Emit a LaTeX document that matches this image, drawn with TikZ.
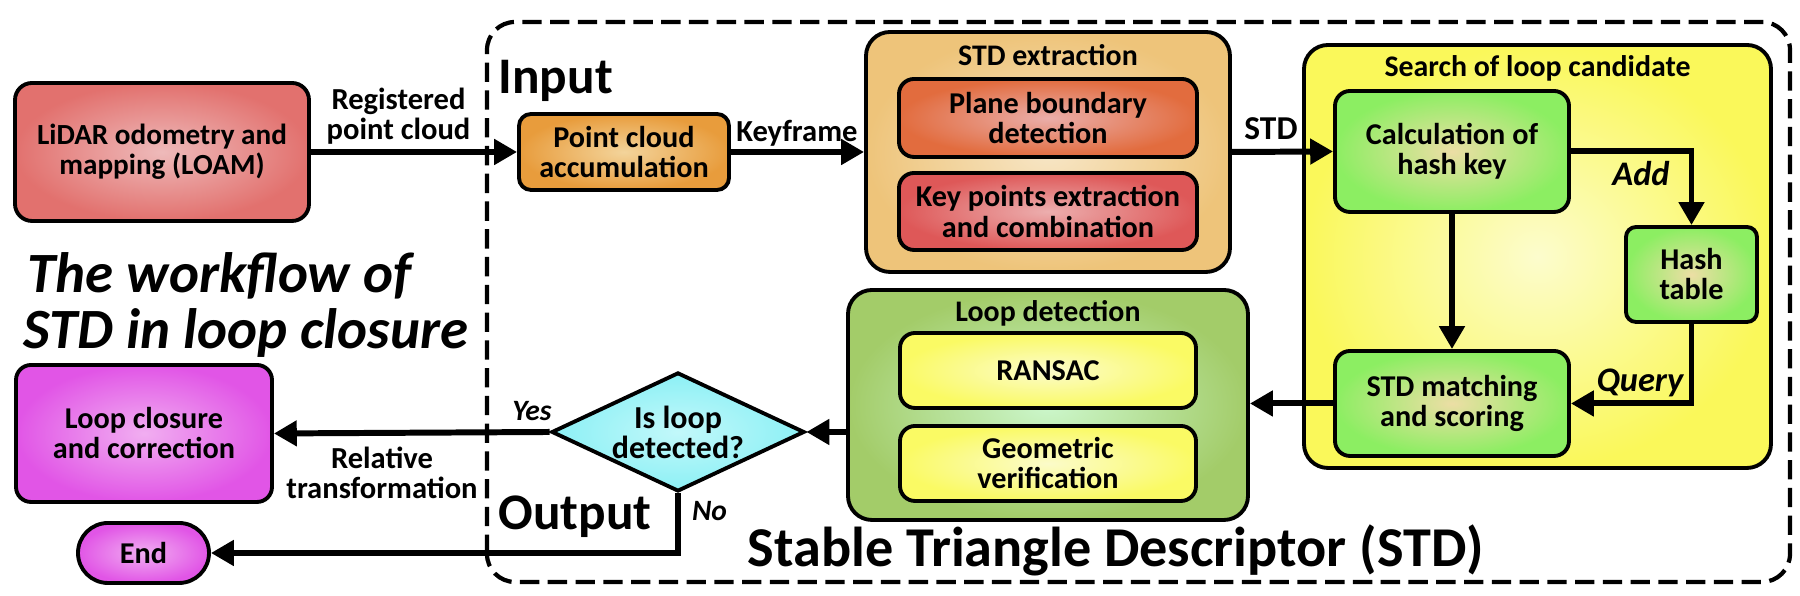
\documentclass[tikz,border=0pt]{standalone}
\usepackage{fontspec}
\setmainfont{Carlito}
\usetikzlibrary{arrows.meta,shapes.geometric}

\definecolor{lidarout}{RGB}{226,113,110}
\definecolor{lidarin}{RGB}{238,186,186}
\definecolor{accout}{RGB}{232,156,60}
\definecolor{accin}{RGB}{243,212,155}
\definecolor{extout}{RGB}{238,196,122}
\definecolor{extin}{RGB}{247,230,198}
\definecolor{planeout}{RGB}{226,108,62}
\definecolor{planein}{RGB}{234,174,170}
\definecolor{keyout}{RGB}{222,88,88}
\definecolor{keyin}{RGB}{236,174,174}
\definecolor{searchout}{RGB}{250,248,90}
\definecolor{searchin}{RGB}{252,252,205}
\definecolor{hashout}{RGB}{140,238,98}
\definecolor{hashin}{RGB}{236,222,165}
\definecolor{detout}{RGB}{163,204,105}
\definecolor{detin}{RGB}{204,247,204}
\definecolor{verout}{RGB}{250,250,100}
\definecolor{verin}{RGB}{251,251,202}
\definecolor{askout}{RGB}{140,240,245}
\definecolor{askin}{RGB}{194,248,250}
\definecolor{closeout}{RGB}{225,85,230}
\definecolor{closein}{RGB}{241,174,241}

\begin{document}
\begin{tikzpicture}[
    box/.style={draw, line width=1.1pt, rounded corners=0.15cm, align=center, inner sep=0pt,
        font={\fontsize{8.6}{8.55}\selectfont\bfseries}},
    group/.style={draw, line width=1.1pt, rounded corners=0.24cm, inner sep=0pt},
    grouptitle/.style={inner sep=0pt, font={\fontsize{8.5}{8.5}\selectfont\bfseries}},
    flow/.style={line width=1.7pt, -{Triangle[length=6.5pt,width=7pt]}},
    tag/.style={align=center, inner sep=0pt, font={\fontsize{8.7}{8.6}\selectfont\bfseries}},
    ctag/.style={inner sep=0pt, font={\fontsize{8.4}{8.4}\selectfont\bfseries\itshape}},
    bigtag/.style={inner sep=0pt, anchor=base west, font={\fontsize{14.6}{14.6}\selectfont\bfseries}}
]
\useasboundingbox (0,0) rectangle (18,5.96);

% STD frame
\draw[line width=1.2pt, dash pattern=on 5.5pt off 2.4pt, rounded corners=0.28cm]
    (4.87,0.14) rectangle (17.90,5.74);
\node[bigtag] (inputtxt) at (4.98,5.02) {Input};
\node[bigtag] (outputtxt) at (4.98,0.66) {Output};
\node[bigtag, font={\fontsize{16}{16}\selectfont\bfseries}] (stdtxt) at (7.47,0.29) {Stable Triangle Descriptor (STD)};
\node[bigtag, font={\fontsize{16.2}{16.2}\selectfont\bfseries\itshape}] (wfline1) at (0.27,3.03) {The workflow of};
\node[bigtag, font={\fontsize{16.2}{16.2}\selectfont\bfseries\itshape}] (wfline2) at (0.23,2.47) {STD in loop closure};

% input side
\node[box, minimum width=2.94cm, minimum height=1.38cm, rounded corners=0.17cm,
    font={\fontsize{8.3}{8.55}\selectfont\bfseries},
    inner color=lidarin, outer color=lidarout] (lidar) at (1.62,4.44) {LiDAR odometry and\\mapping (LOAM)};
\node[box, minimum width=2.10cm, minimum height=0.76cm, rounded corners=0.12cm,
    inner color=accin, outer color=accout] (pcacc) at (6.24,4.44) {Point cloud\\accumulation};

% STD extraction
\node[group, minimum width=3.64cm, minimum height=2.40cm,
    inner color=extin, outer color=extout] (stdext) at (10.48,4.44) {};
\node[grouptitle] (stdexttitle) at (10.48,5.41) {STD extraction};
\node[box, minimum width=2.98cm, minimum height=0.78cm,
    inner color=planein, outer color=planeout] (plane) at (10.48,4.78) {Plane boundary\\detection};
\node[box, minimum width=2.98cm, minimum height=0.77cm,
    inner color=keyin, outer color=keyout] (keypts) at (10.48,3.845) {Key points extraction\\and combination};

% search of loop candidate
\node[group, minimum width=4.67cm, minimum height=4.23cm,
    inner color=searchin, outer color=searchout] (search) at (15.375,3.395) {};
\node[grouptitle] (searchtitle) at (15.375,5.28) {Search of loop candidate};
\node[box, minimum width=2.34cm, minimum height=1.21cm,
    inner color=hashin, outer color=hashout] (calc) at (14.52,4.445) {Calculation of\\hash key};
\node[box, minimum width=1.31cm, minimum height=0.95cm, rounded corners=0.1cm,
    inner color=hashin, outer color=hashout] (hash) at (16.915,3.215) {Hash\\table};
\node[box, minimum width=2.34cm, minimum height=1.05cm,
    inner color=hashin, outer color=hashout] (match) at (14.52,1.925) {STD matching\\and scoring};

% loop detection
\node[group, minimum width=4.00cm, minimum height=2.30cm,
    inner color=detin, outer color=detout] (loopdet) at (10.48,1.91) {};
\node[grouptitle] (loopdettitle) at (10.48,2.83) {Loop detection};
\node[box, minimum width=2.96cm, minimum height=0.75cm,
    inner color=verin, outer color=verout] (ransac) at (10.48,2.255) {RANSAC};
\node[box, minimum width=2.96cm, minimum height=0.75cm,
    inner color=verin, outer color=verout] (geom) at (10.48,1.325) {Geometric\\verification};

\node[diamond, draw, line width=1.1pt, aspect=2.13, minimum width=2.53cm, minimum height=1.19cm,
    inner sep=0pt, align=center, font={\fontsize{9.1}{8.55}\selectfont\bfseries},
    inner color=askin, outer color=askout] (isloop) at (6.78,1.64) {Is loop\\detected?};

% output side
\node[box, minimum width=2.56cm, minimum height=1.37cm,
    inner color=closein, outer color=closeout] (closure) at (1.44,1.625) {Loop closure\\and correction};
\node[box, minimum width=1.31cm, minimum height=0.60cm, rounded corners=0.3cm,
    inner color=closein, outer color=closeout] (finish) at (1.435,0.43) {End};

% connectors
\draw[flow] (lidar.east) -- (pcacc.west);
\draw[flow] (pcacc.east) -- (stdext.west);
\draw[flow] (stdext.east) -- (calc.west);
\draw[flow] (calc.east) -| (hash.north);
\draw[flow] (calc.south) -- (match.north);
\draw[flow] (hash.south) |- (match.east);
\draw[flow] (match.west) -- (match.west -| loopdet.east);
\draw[flow] (loopdet.west |- isloop.east) -- (isloop.east);
\draw[flow] (isloop.west) -- (closure.east);
\draw[flow] (isloop.south) |- (finish.east);

\node[tag] (regtag) at (3.985,4.795) {Registered\\point cloud};
\node[tag] (keytag) at (7.97,4.63) {Keyframe};
\node[tag, font={\fontsize{9.5}{9.5}\selectfont\bfseries}] (stdtag) at (12.71,4.675) {STD};
\node[ctag, font={\fontsize{9.8}{9.8}\selectfont\bfseries\itshape}] (addtag) at (16.41,4.22) {Add};
\node[ctag, font={\fontsize{9.8}{9.8}\selectfont\bfseries\itshape}] (querytag) at (16.40,2.13) {Query};
\node[ctag] (yestag) at (5.32,1.845) {Yes};
\node[ctag] (notag) at (7.095,0.845) {No};
\node[tag] (reltag) at (3.82,1.235) {Relative\\transformation};

\end{tikzpicture}
\end{document}
